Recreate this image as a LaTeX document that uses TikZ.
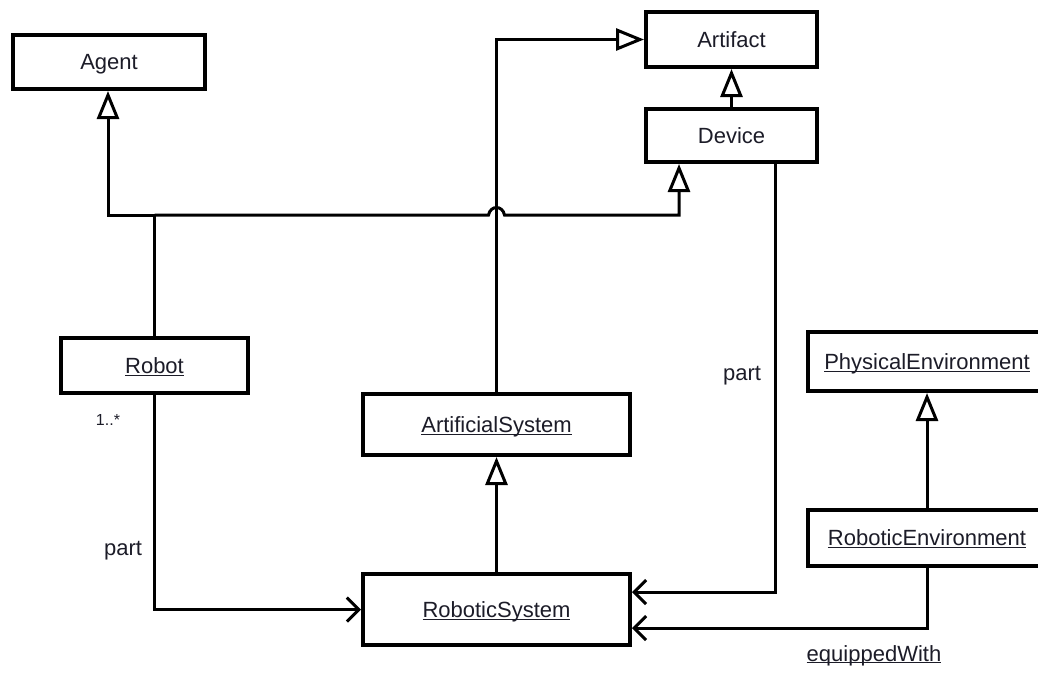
\documentclass[tikz,border=0pt]{standalone}
\usepackage{fontspec}
\setmainfont{Liberation Sans}
\usetikzlibrary{arrows.meta}
\definecolor{ink}{RGB}{28,28,40}
\newcommand{\cname}[1]{\underline{\smash{#1}}}
\tikzset{
  cls/.style={draw=black, line width=4pt, inner sep=0pt, fill=white,
    text=ink, font=\fontsize{22}{26}\selectfont,
    text height=15.75pt, text depth=0pt},
  lbl/.style={inner sep=0pt, text=ink, font=\fontsize{22}{26}\selectfont},
  mult/.style={inner sep=0pt, text=ink, font=\fontsize{16}{19}\selectfont},
  gen/.style={draw=black, line width=3pt,
    -{Triangle[open, length=28pt, width=22pt, line width=3pt]}},
  assoc/.style={draw=black, line width=3pt,
    -{Straight Barb[length=12pt, width=24pt, line width=3pt]}},
  line/.style={draw=black, line width=3pt}
}
\begin{document}
\begin{tikzpicture}[x=1pt, y=-1pt]
\useasboundingbox (0,0) rectangle (1038,673);
\clip (0,0) rectangle (1038,673);

% classes
\node[cls, minimum width=192pt, minimum height=54pt] (agent) at (109,62) {Agent};
\node[cls, minimum width=171pt, minimum height=55pt] (artifact) at (731.5,39.5) {Artifact};
\node[cls, minimum width=171pt, minimum height=53pt] (device) at (731.5,135.5) {Device};
\node[cls, minimum width=187pt, minimum height=55pt] (robot) at (154.5,365.5) {\cname{Robot}};
\node[cls, minimum width=267pt, minimum height=61pt] (asys) at (496.5,424.5) {\cname{ArtificialSystem}};
\node[cls, minimum width=267pt, minimum height=71pt] (rsys) at (496.5,609.5) {\cname{RoboticSystem}};
\node[cls, minimum width=238pt, minimum height=59pt] (penv) at (927,361.5) {\cname{PhysicalEnvironment}};
\node[cls, minimum width=238pt, minimum height=56pt] (renv) at (927,538) {\cname{RoboticEnvironment}};

% junction points of the Robot generalisations
\coordinate (j) at (robot.north |- 0,215);
\coordinate (hopl) at (asys.north |- 0,215);

% generalisations
\draw[gen] (j) -| ([xshift=-1pt]agent.south);
\draw[line] (robot.north) -- (j);
\draw[gen] (j) -- ([xshift=-8pt]hopl)
  .. controls ([xshift=-6pt,yshift=10pt]hopl) and ([xshift=6pt,yshift=10pt]hopl) .. ([xshift=8pt]hopl)
  -| ([xshift=-52.5pt]device.south);
\draw[gen] (asys.north) |- (artifact.west);
\draw[gen] (device.north) -- (artifact.south);
\draw[gen] (rsys.north) -- (asys.south);
\draw[gen] (renv.north) -- (penv.south);

% associations
\draw[assoc] (robot.south) |- (rsys.west);
\draw[assoc] ([xshift=43.5pt]device.south) |- ([yshift=17.5pt]rsys.east);
\draw[assoc] (renv.south) |- ([yshift=-18.5pt]rsys.east);

% association labels
\node[mult] (m1) at (108,420) {1..*};
\node[lbl] (p1) at (123,551) {part};
\node[lbl] (p2) at (742,376) {part};
\node[lbl] (eq) at (874,662) {\cname{equippedWith}};
\end{tikzpicture}
\end{document}
